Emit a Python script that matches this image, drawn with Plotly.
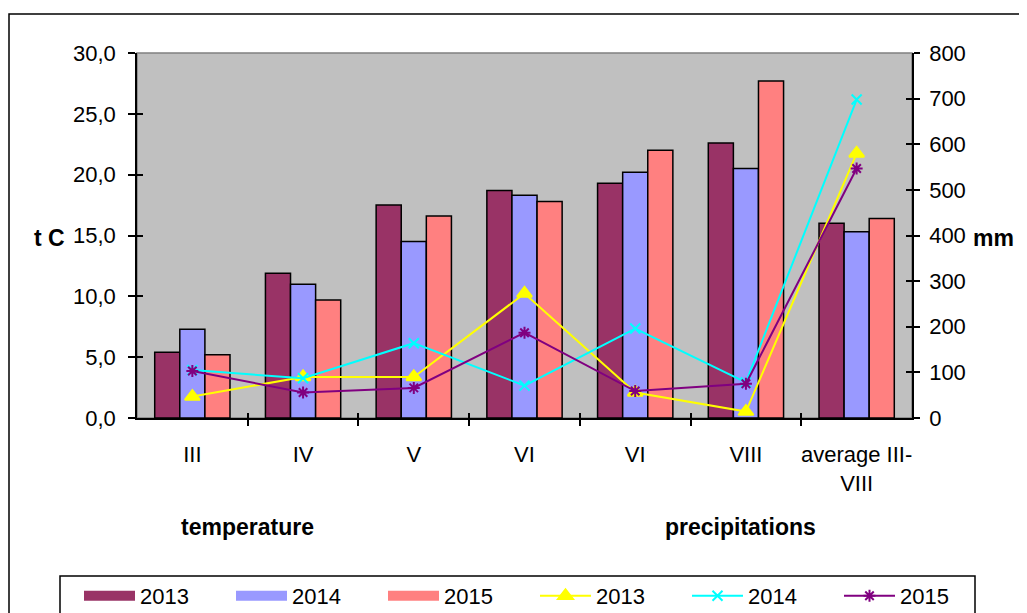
import plotly.graph_objects as go

categories = ["III", "IV", "V", "VI", "VI", "VIII", "average III-<br>VIII"]
years = ["2013", "2014", "2015"]

temp_2013 = [5.4, 11.9, 17.5, 18.7, 19.3, 22.6, 16.0]
temp_2014 = [7.3, 11.0, 14.5, 18.3, 20.2, 20.5, 15.3]
temp_2015 = [5.2, 9.7, 16.6, 17.8, 22.0, 27.7, 16.4]

prec_2013 = [47, 90, 90, 273, 56, 14, 580]
prec_2014 = [105, 87, 164, 71, 196, 78, 698]
prec_2015 = [103, 56, 66, 187, 59, 75, 547]

bar_colors = ["#993366", "#9999FF", "#FF8080"]
line_colors = ["#FFFF00", "#00FFFF", "#800080"]
line_symbols = ["triangle-up", "x-thin-open", "asterisk-open"]
line_sizes = [13, 10, 10]

xpos = list(range(len(categories)))
boundaries = [i + 0.5 for i in range(len(categories) - 1)]

FONT = "Liberation Sans, Arial, sans-serif"
FS = 22
FSB = 23

# page body has an 8px margin; plot area target on screen: x 137-912, y 53-418
OFF = 8
PL, PT, PW, PH = 137, 53, 775, 365
W, H = 1027, 613


def px(sx):
    return (sx - PL) / PW


def py(sy):
    return (PT + PH - sy) / PH


fig = go.Figure()

for yr, vals, col in zip(years, [temp_2013, temp_2014, temp_2015], bar_colors):
    fig.add_trace(go.Bar(
        x=xpos, y=vals, name=yr, showlegend=False,
        marker=dict(color=col, line=dict(color="black", width=1.5)),
        xaxis="x", yaxis="y",
    ))

# legend swatches for the bar series (wide rectangles as in the reference)
for yr, col in zip(years, bar_colors):
    fig.add_trace(go.Scatter(
        x=[None], y=[None], name=yr, mode="lines",
        line=dict(color=col, width=13), xaxis="x", yaxis="y",
        hoverinfo="skip", legend="legend",
    ))

for yr, vals, col, sym, sz in zip(years, [prec_2013, prec_2014, prec_2015],
                                  line_colors, line_symbols, line_sizes):
    fig.add_trace(go.Scatter(
        x=xpos, y=vals, name=yr, mode="lines+markers",
        line=dict(color=col, width=2),
        marker=dict(color=col, symbol=sym, size=sz, line=dict(color=col, width=2)),
        xaxis="x", yaxis="y2", legend="legend2",
    ))

# invisible helper traces so overlay axes (crossing tick marks) are drawn
for xa, ya in [("x2", "y3"), ("x3", "y4"), ("x2", "y5")]:
    fig.add_trace(go.Scatter(x=[None], y=[None], xaxis=xa, yaxis=ya,
                             showlegend=False, hoverinfo="skip"))

xr = [-0.5, len(categories) - 0.5]

ml = PL - OFF
mt = PT - OFF
mr = W - ml - PW
mb = H - mt - PH

legend_common = dict(orientation="h", xanchor="left", y=py(575), yanchor="top",
                     borderwidth=0, bgcolor="rgba(0,0,0,0)", font=dict(size=FS),
                     entrywidth=86, entrywidthmode="pixels", traceorder="normal",
                     itemwidth=51)

fig.update_layout(
    width=W, height=H,
    margin=dict(l=ml, r=mr, t=mt, b=mb, pad=0, autoexpand=False),
    paper_bgcolor="white",
    plot_bgcolor="#C0C0C0",
    separators=",.",
    font=dict(family=FONT, size=FS, color="black"),
    barmode="group", bargap=0.32, bargroupgap=0,
    xaxis=dict(range=xr, tickvals=xpos, ticktext=categories, ticks="",
               showgrid=False, zeroline=False, showline=True,
               linecolor="black", linewidth=1.5,
               ticklabelstandoff=16, tickfont=dict(size=FS)),
    xaxis2=dict(range=xr, overlaying="x", anchor="y", tickvals=boundaries,
                ticks="outside", ticklen=7, tickwidth=1.5, tickcolor="black",
                showticklabels=False, showgrid=False, zeroline=False, showline=False),
    xaxis3=dict(range=xr, overlaying="x", anchor="y", tickvals=boundaries,
                ticks="inside", ticklen=5, tickwidth=1.5, tickcolor="black",
                showticklabels=False, showgrid=False, zeroline=False, showline=False),
    yaxis=dict(range=[0, 30], dtick=5, tickformat=".1f", ticks="outside",
               ticklen=7, tickwidth=1.5, tickcolor="black",
               showgrid=False, zeroline=False, showline=True,
               linecolor="black", linewidth=1.5, ticklabelstandoff=8),
    yaxis2=dict(range=[0, 800], dtick=100, overlaying="y", side="right",
                anchor="x", ticks="outside", ticklen=6, tickwidth=1.5,
                tickcolor="black", showgrid=False, zeroline=False,
                showline=True, linecolor="black", linewidth=1.5,
                ticklabelstandoff=5),
    yaxis3=dict(range=[0, 30], dtick=5, overlaying="y", anchor="x2", side="left",
                ticks="inside", ticklen=6, tickwidth=1.5, tickcolor="black",
                showticklabels=False, showgrid=False, zeroline=False, showline=False),
    yaxis4=dict(range=[0, 800], dtick=100, overlaying="y", anchor="x3", side="right",
                ticks="inside", ticklen=6, tickwidth=1.5, tickcolor="black",
                showticklabels=False, showgrid=False, zeroline=False, showline=False),
    yaxis5=dict(range=[0, 30], overlaying="y", anchor="x2", side="left",
                ticks="", showticklabels=False, showgrid=False,
                zeroline=False, showline=False),
    legend=dict(x=px(79), **legend_common),
    legend2=dict(x=px(79 + 3 * 152), **legend_common),
    showlegend=True,
    shapes=[
        dict(type="rect", xref="paper", yref="paper", x0=0, x1=1, y0=0, y1=1,
             line=dict(color="#808080", width=1.5), layer="below"),
        # outer chart border
        dict(type="rect", xref="paper", yref="paper",
             x0=px(9), x1=px(1045), y0=py(650), y1=py(14),
             line=dict(color="black", width=1.5), layer="below"),
        # legend box
        dict(type="rect", xref="paper", yref="paper",
             x0=px(60), x1=px(975), y0=py(650), y1=py(576),
             line=dict(color="black", width=1.5), layer="below"),
    ],
    annotations=[
        dict(text="<b>t C</b>", xref="paper", yref="paper", xanchor="center",
             yanchor="middle", x=px(49), y=py(238), showarrow=False,
             font=dict(size=FSB)),
        dict(text="<b>mm</b>", xref="paper", yref="paper", xanchor="center",
             yanchor="middle", x=px(994), y=py(238), showarrow=False,
             font=dict(size=FSB)),
        dict(text="<b>temperature</b>", xref="paper", yref="paper", xanchor="center",
             yanchor="middle", x=px(247), y=py(527), showarrow=False,
             font=dict(size=FSB)),
        dict(text="<b>precipitations</b>", xref="paper", yref="paper", xanchor="center",
             yanchor="middle", x=px(740), y=py(527), showarrow=False,
             font=dict(size=FSB)),
    ],
)

fig.write_html("out.html")
